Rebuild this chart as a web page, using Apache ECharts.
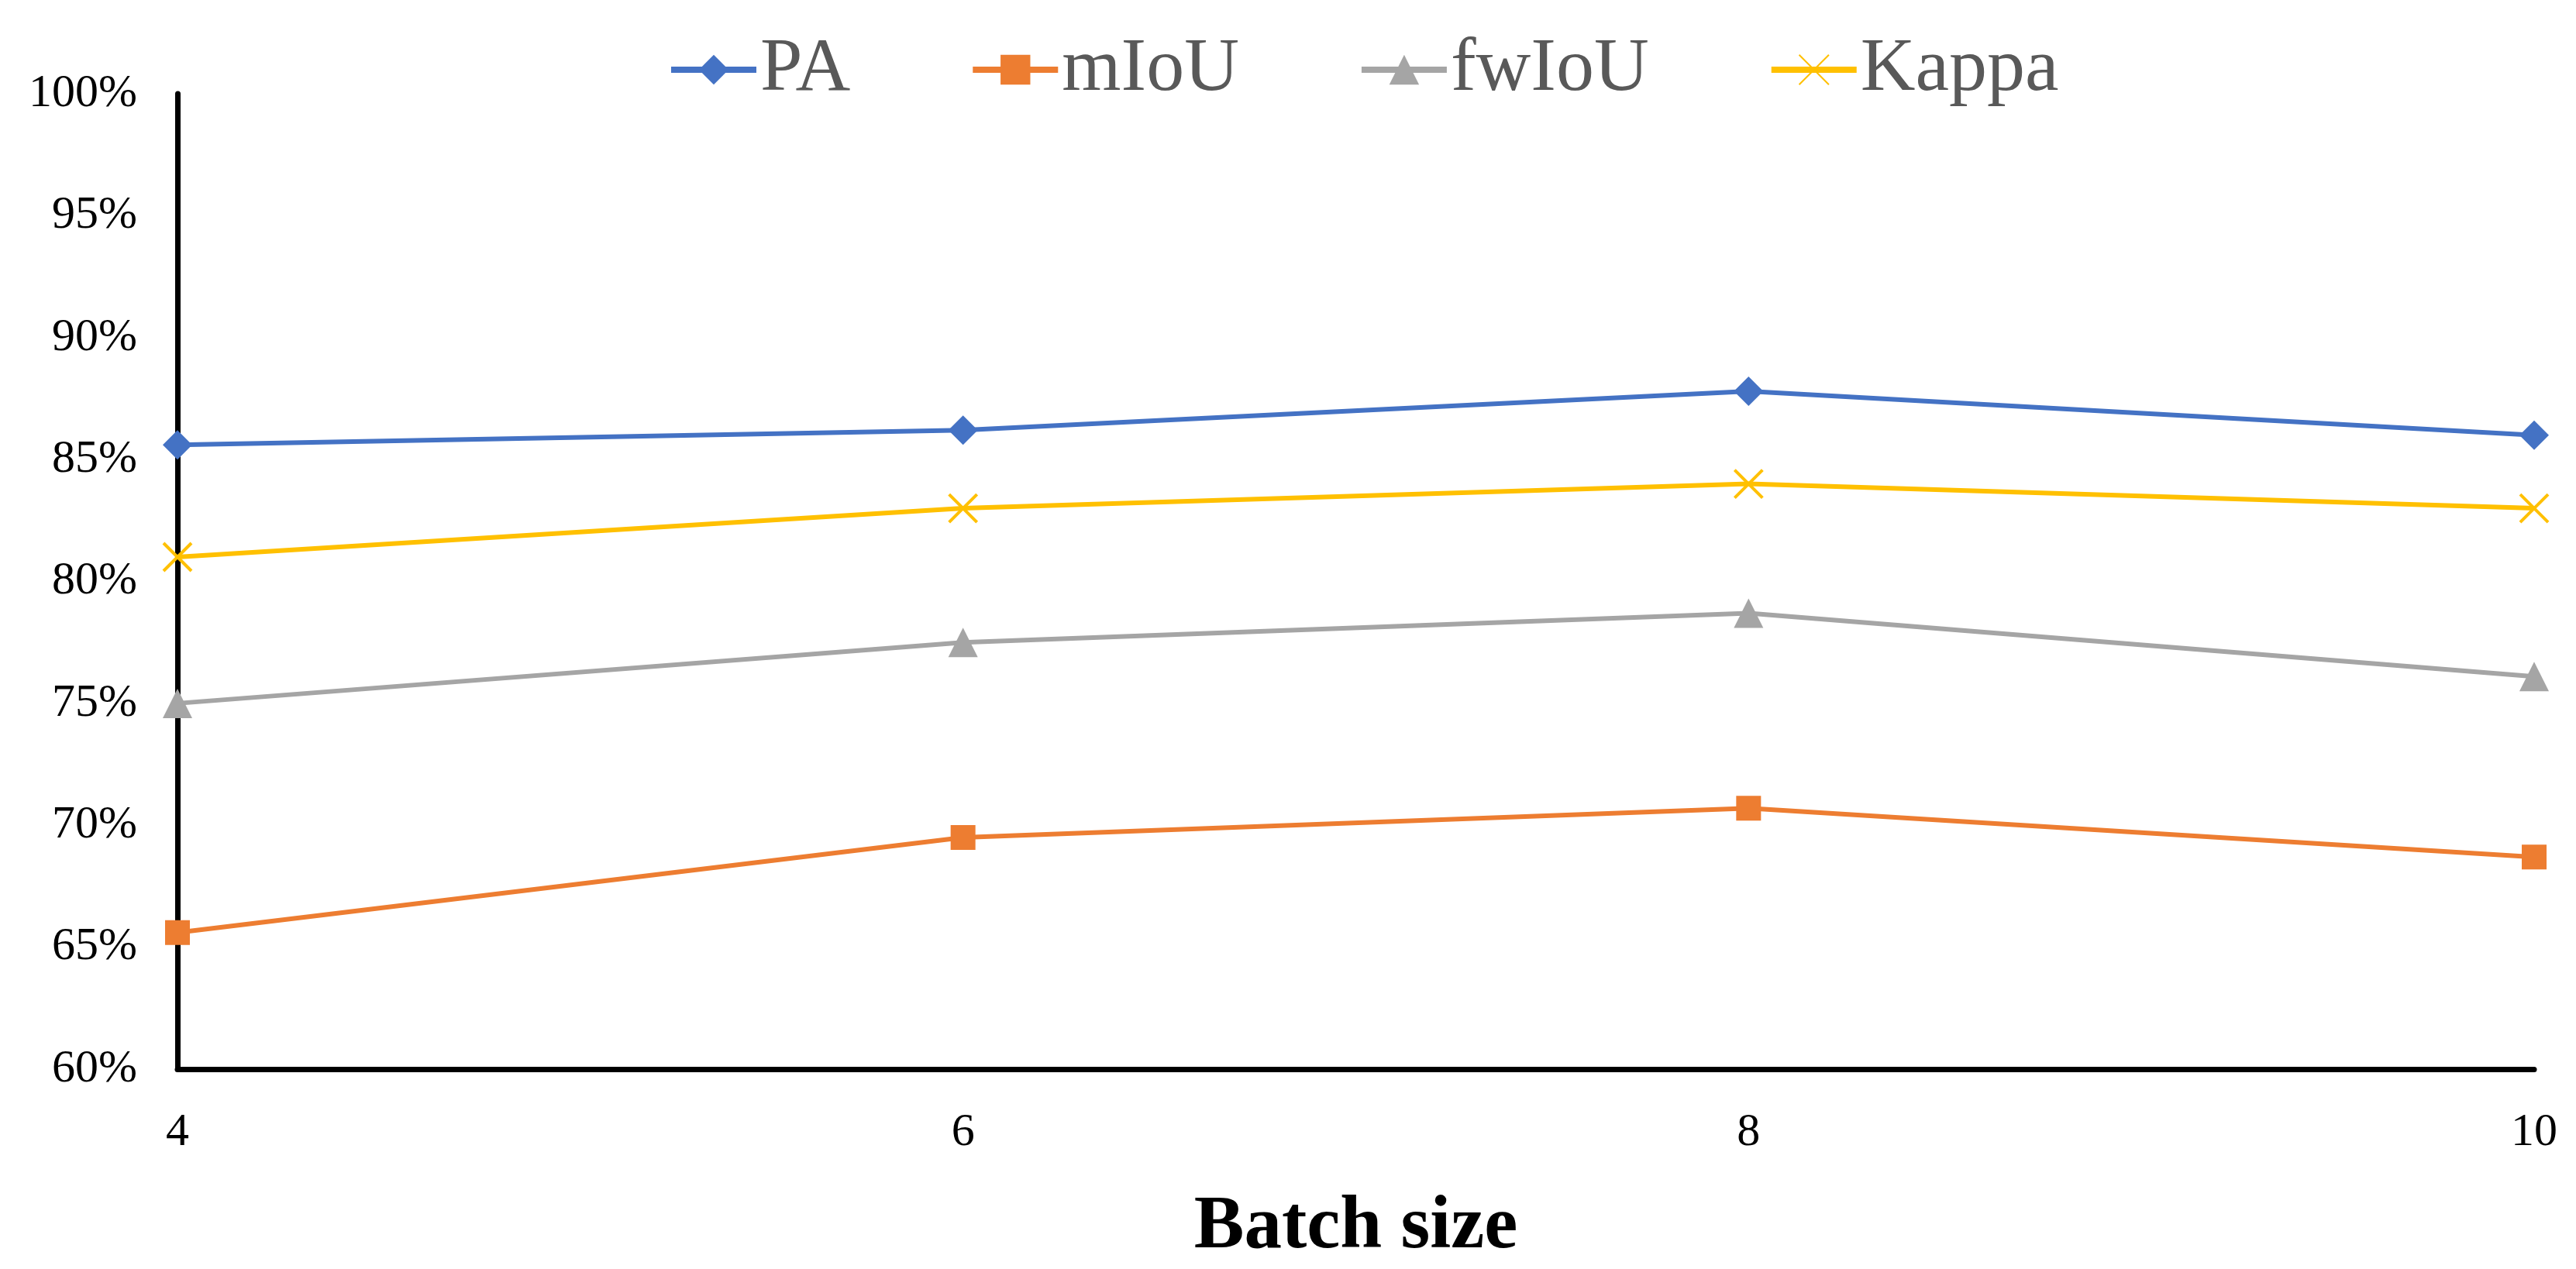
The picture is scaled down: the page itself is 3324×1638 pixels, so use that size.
<!DOCTYPE html>
<html>
<head>
<meta charset="utf-8">
<script src="https://cdn.jsdelivr.net/npm/echarts@6/dist/echarts.min.js"></script>
<style>
html,body{margin:0;padding:0;background:#fff;}
#chart{width:3324px;height:1638px;}
</style>
</head>
<body>
<div id="chart"></div>
<script>
const categories = ['4', '6', '8', '10'];
const seriesNames = ['PA', 'mIoU', 'fwIoU', 'Kappa'];
const paValues = [85.6, 86.2, 87.8, 86.0];
const miouValues = [65.6, 69.5, 70.7, 68.7];
const fwiouValues = [75.0, 77.5, 78.7, 76.1];
const kappaValues = [81.0, 83.0, 84.0, 83.0];
const yTicks = { min: 60, max: 100, step: 5 };
const xTitle = 'Batch size';

const colors = ['#4472C4', '#ED7D31', '#A5A5A5', '#FFC000'];
const font = '"Liberation Serif", "Times New Roman", serif';

const chart = echarts.init(document.getElementById('chart'));

function mkSeries(name, data, color, symbol, size, extra) {
  return Object.assign({
    name: name,
    type: 'line',
    data: data,
    symbol: symbol,
    symbolSize: size,
    lineStyle: { color: color, width: 6 },
    itemStyle: { color: color },
    emphasis: { disabled: true },
    animation: false
  }, extra || {});
}

chart.setOption({
  backgroundColor: '#ffffff',
  animation: false,
  legend: {
    data: seriesNames,
    top: 36,
    left: 857,
    itemWidth: 110,
    itemHeight: 48,
    itemGap: 154,
    lineStyle: { width: 8 },
    textStyle: { fontFamily: font, fontSize: 98, color: '#595959' }
  },
  grid: { left: 229, right: 54, top: 121, bottom: 258, containLabel: false },
  xAxis: {
    type: 'category',
    data: categories,
    boundaryGap: false,
    axisLine: { show: true, lineStyle: { color: '#000', width: 7 } },
    axisTick: { show: false },
    splitLine: { show: false },
    axisLabel: { fontFamily: font, fontSize: 60, color: '#000', margin: 52 },
    name: xTitle,
    nameLocation: 'middle',
    nameGap: 156,
    nameTextStyle: { fontFamily: font, fontSize: 97, fontWeight: 'bold', color: '#000' }
  },
  yAxis: {
    type: 'value',
    min: yTicks.min,
    max: yTicks.max,
    interval: yTicks.step,
    axisLine: { show: true, lineStyle: { color: '#000', width: 7 } },
    axisTick: { show: false },
    splitLine: { show: false },
    axisLabel: { fontFamily: font, fontSize: 60, color: '#000', margin: 52, formatter: '{value}%' }
  },
  series: [
    mkSeries(seriesNames[0], paValues, colors[0], 'diamond', 38),
    mkSeries(seriesNames[1], miouValues, colors[1], 'rect', 32),
    mkSeries(seriesNames[2], fwiouValues, colors[2], 'triangle', 38),
    mkSeries(seriesNames[3], kappaValues, colors[3], 'path://M0,0L10,10M10,0L0,10', 36, {
      itemStyle: { color: colors[3], borderColor: colors[3], borderWidth: 4 }
    })
  ]
});
</script>
</body>
</html>
